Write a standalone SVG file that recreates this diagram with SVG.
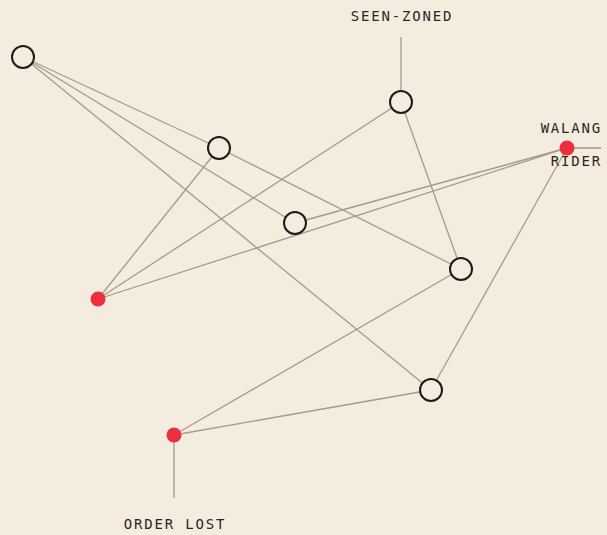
<svg xmlns="http://www.w3.org/2000/svg" width="607" height="535" viewBox="0 0 607 535">
<style>
.e{stroke:#a69a88;stroke-width:1.3;fill:none}
.o{fill:#f4ecdf;stroke:#1f1a17;stroke-width:2}
.r{fill:#ee2d3e}
.t{font-family:"DejaVu Sans Mono","Liberation Mono",monospace;font-size:14px;letter-spacing:1.8px;fill:#2b2621}
</style>
<rect width="607" height="535" fill="#f4ecdf"/>
<g id="connectors">
<line class="e" x1="23" y1="57" x2="295" y2="223"/>
<line class="e" x1="23" y1="57" x2="219" y2="148"/>
<line class="e" x1="23" y1="57" x2="431" y2="390"/>
<line class="e" x1="219" y1="148" x2="461" y2="269"/>
<line class="e" x1="219" y1="148" x2="98" y2="299"/>
<line class="e" x1="401" y1="102" x2="98" y2="299"/>
<line class="e" x1="401" y1="102" x2="461" y2="269"/>
<line class="e" x1="295" y1="223" x2="567" y2="148"/>
<line class="e" x1="98" y1="299" x2="567" y2="148"/>
<line class="e" x1="461" y1="269" x2="174" y2="435"/>
<line class="e" x1="431" y1="390" x2="174" y2="435"/>
<line class="e" x1="431" y1="390" x2="567" y2="148"/>
<line class="e" x1="401" y1="37" x2="401" y2="102"/>
<line class="e" x1="567" y1="148" x2="601" y2="148"/>
<line class="e" x1="174" y1="435" x2="174" y2="498"/>
</g>
<g id="n1"><circle class="o" cx="23" cy="57" r="11"/></g>
<g id="n2"><circle class="o" cx="219" cy="148" r="11"/></g>
<g id="n3"><circle class="o" cx="401" cy="102" r="11"/></g>
<g id="n4"><circle class="o" cx="295" cy="223" r="11"/></g>
<g id="n5"><circle class="o" cx="461" cy="269" r="11"/></g>
<g id="n6"><circle class="o" cx="431" cy="390" r="11"/></g>
<g id="n7"><circle class="r" cx="98" cy="299" r="7.5"/></g>
<g id="n8"><circle class="r" cx="567" cy="148" r="7.5"/></g>
<g id="n9"><circle class="r" cx="174" cy="435" r="7.5"/></g>
<g id="labels">
<text class="t" x="402" y="21" text-anchor="middle">SEEN-ZONED</text>
<text class="t" x="602" y="133" text-anchor="end">WALANG</text>
<text class="t" x="602" y="166" text-anchor="end">RIDER</text>
<text class="t" x="175" y="529" text-anchor="middle">ORDER LOST</text>
</g>
</svg>
